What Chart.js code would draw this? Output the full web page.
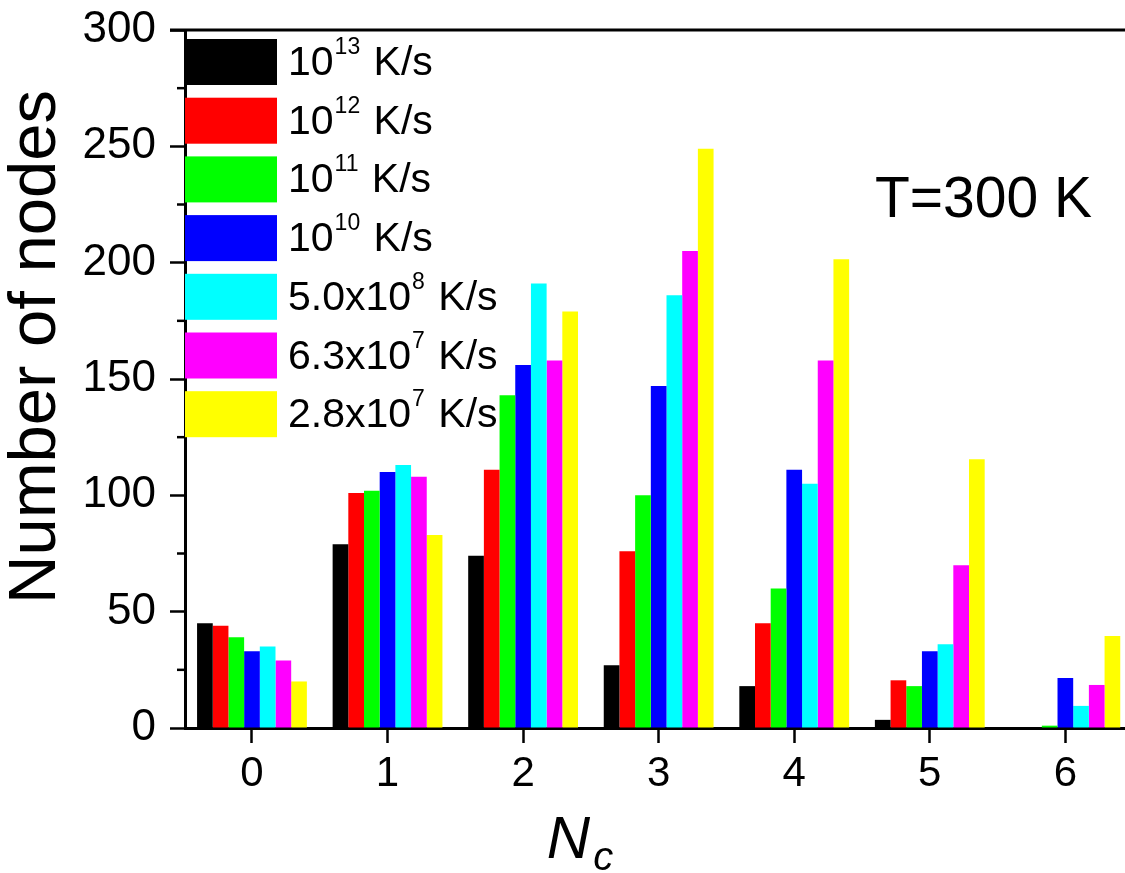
<!DOCTYPE html>
<html><head><meta charset="utf-8">
<script src="https://cdn.jsdelivr.net/npm/chart.js@4/dist/chart.umd.min.js"></script>
<style>html,body{margin:0;padding:0;background:#fff;overflow:hidden}#wrap{width:1125px;height:873px;position:relative}</style>
</head><body><div id="wrap"><canvas id="c" width="1125" height="873"></canvas></div>
<script>
// ---- data ----
const categories = [0, 1, 2, 3, 4, 5, 6];
const rateBase = ['10', '10', '10', '10', '5.0x10', '6.3x10', '2.8x10'];
const rateExp = ['13', '12', '11', '10', '8', '7', '7'];
const rateUnit = ' K/s';
const rate1e13 = [45, 79, 74, 27, 18, 3.5, 0];
const rate1e12 = [44, 101, 111, 76, 45, 20.5, 0];
const rate1e11 = [39, 102, 143, 100, 60, 18, 1];
const rate1e10 = [33, 110, 156, 147, 111, 33, 21.5];
const rate5e8 = [35, 113, 191, 186, 105, 36, 9.5];
const rate6e7 = [29, 108, 158, 205, 158, 70, 18.5];
const rate2e7 = [20, 83, 179, 249, 201.5, 115.5, 39.5];
const seriesValues = [rate1e13, rate1e12, rate1e11, rate1e10, rate5e8, rate6e7, rate2e7];
const seriesColors = ['#000000', '#ff0000', '#00ff00', '#0000ff', '#00ffff', '#ff00ff', '#ffff00'];
const yTicks = [0, 50, 100, 150, 200, 250, 300];
const yMinorTicks = [25, 75, 125, 175, 225, 275];
const yTitle = 'Number of nodes';
const xTitleMain = 'N';
const xTitleSub = 'c';
const annotationText = 'T=300 K';

const FONT = '"Liberation Sans", Arial, sans-serif';

const datasets = seriesValues.map((vals, i) => ({
  label: rateBase[i] + '^' + rateExp[i] + rateUnit,
  data: categories.map((c, j) => ({ x: c, y: vals[j] })),
  backgroundColor: seriesColors[i],
  borderWidth: 0,
  categoryPercentage: 0.81,
  barPercentage: 1.0
}));

const decor = {
  id: 'decor',
  afterDraw(chart) {
    const ctx = chart.ctx;
    const a = chart.chartArea;
    const ys = chart.scales.y;
    ctx.save();
    // top frame line
    ctx.strokeStyle = '#000';
    ctx.lineWidth = 3;
    ctx.beginPath();
    ctx.moveTo(a.left - 15, a.top);
    ctx.lineTo(a.right, a.top);
    ctx.stroke();
    // minor ticks
    ctx.lineWidth = 2.5;
    yMinorTicks.forEach(v => {
      const y = ys.getPixelForValue(v);
      ctx.beginPath();
      ctx.moveTo(a.left - 8, y);
      ctx.lineTo(a.left, y);
      ctx.stroke();
    });
    // legend
    ctx.textBaseline = 'alphabetic';
    ctx.textAlign = 'left';
    seriesColors.forEach((col, i) => {
      const top = 39 + i * 58.7;
      ctx.fillStyle = col;
      ctx.fillRect(a.left, top, 92, 46);
      const base = top + 36;
      let x = 288;
      ctx.fillStyle = '#000';
      ctx.font = '41px ' + FONT;
      ctx.fillText(rateBase[i], x, base);
      x += ctx.measureText(rateBase[i]).width;
      ctx.font = '23px ' + FONT;
      ctx.fillText(rateExp[i], x + 1, base - 21);
      x += ctx.measureText(rateExp[i]).width + 3;
      ctx.font = '41px ' + FONT;
      ctx.fillText(rateUnit, x, base);
    });
    // annotation
    ctx.font = '57px ' + FONT;
    ctx.fillText(annotationText, 875, 217);
    // y title
    ctx.save();
    ctx.translate(37, 347);
    ctx.rotate(-Math.PI / 2);
    ctx.textAlign = 'center';
    ctx.textBaseline = 'middle';
    ctx.font = '67px ' + FONT;
    ctx.fillText(yTitle, 0, 0);
    ctx.restore();
    // x title
    ctx.font = 'italic 60px ' + FONT;
    const nW = ctx.measureText(xTitleMain).width;
    ctx.font = 'italic 40px ' + FONT;
    const cW = ctx.measureText(xTitleSub).width;
    const cx = 580;
    const x0 = cx - (nW + cW + 3) / 2;
    ctx.font = 'italic 60px ' + FONT;
    ctx.fillText(xTitleMain, x0, 858);
    ctx.font = 'italic 40px ' + FONT;
    ctx.fillText(xTitleSub, x0 + nW + 3, 870);
    ctx.restore();
  }
};

new Chart(document.getElementById('c'), {
  type: 'bar',
  data: { datasets },
  options: {
    responsive: false,
    animation: false,
    events: [],
    layout: { padding: { top: 30, left: 0, right: 0, bottom: 0 } },
    plugins: { legend: { display: false }, tooltip: { enabled: false } },
    scales: {
      x: {
        type: 'linear',
        min: -0.494,
        max: 6.44,
        offset: false,
        afterBuildTicks: s => { s.ticks = categories.map(v => ({ value: v })); },
        afterFit: s => { s.height = 145; s.paddingLeft = 0; s.paddingRight = 0; },
        grid: { offset: false, drawOnChartArea: false, drawTicks: true, tickLength: 15, tickColor: '#000', tickWidth: 2.5 },
        border: { display: true, color: '#000', width: 3 },
        ticks: { color: '#000', font: { family: FONT, size: 42 }, padding: 6, maxRotation: 0, autoSkip: false }
      },
      y: {
        min: 0,
        max: 300,
        afterBuildTicks: s => { s.ticks = yTicks.map(v => ({ value: v })); },
        afterFit: s => { s.width = 185; s.paddingTop = 0; s.paddingBottom = 0; },
        grid: { drawOnChartArea: false, drawTicks: true, tickLength: 15, tickColor: '#000', tickWidth: 2.5 },
        border: { display: true, color: '#000', width: 3 },
        ticks: { color: '#000', font: { family: FONT, size: 44 }, padding: 14 }
      }
    }
  },
  plugins: [decor]
});
</script>
</body></html>
